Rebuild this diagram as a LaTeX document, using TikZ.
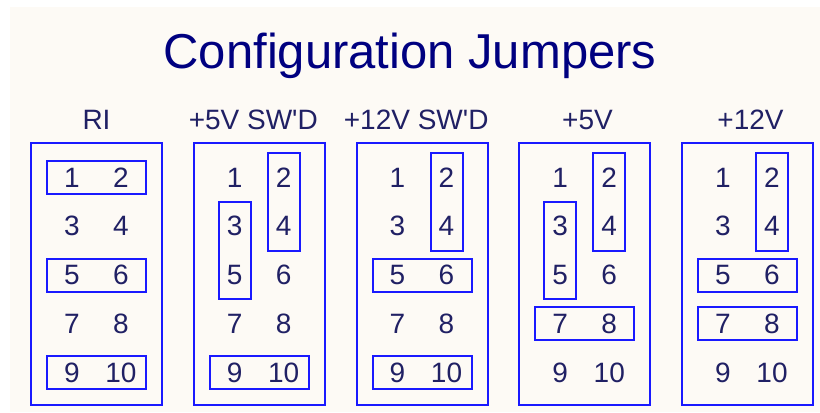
\documentclass[tikz,border=0pt]{standalone}
\usepackage{fontspec}
\setmainfont{Liberation Sans}
\usetikzlibrary{calc}
\definecolor{bgc}{RGB}{253,250,245}
\definecolor{ttl}{RGB}{0,0,128}
\definecolor{txt}{RGB}{32,32,100}
\definecolor{lnc}{RGB}{25,25,255}
\begin{document}
\begin{tikzpicture}[x=1bp,y=-1bp,
  panel/.style={draw=lnc,line width=2bp,minimum width=131bp,minimum height=262bp,inner sep=0pt},
  num/.style={text=txt,font=\fontsize{28bp}{30bp}\selectfont,inner sep=0pt},
  lbl/.style={text=txt,font=\fontsize{28bp}{30bp}\selectfont,inner sep=0pt,anchor=base},
  ttlstyle/.style={text=ttl,font=\fontsize{49bp}{52bp}\selectfont,inner sep=0pt,anchor=base},
  hj/.style={draw=lnc,line width=2bp,minimum width=99bp,minimum height=33bp,inner sep=0pt},
  vj/.style={draw=lnc,line width=2bp,minimum width=32bp,minimum height=97.5bp,inner sep=0pt}]
\useasboundingbox (0,0) rectangle (820,412);
\fill[white] (0,0) rectangle (820,412);
\fill[bgc] (10,7) rectangle (820,412);
\node[ttlstyle] (title) at (410,68) {Configuration Jumpers};
\foreach \p/\L/\lx/\t in {a/31/96.5/RI, b/193.75/253.3/{+5V SW\textquotesingle D}, c/356.5/416.2/{+12V SW\textquotesingle D}, d/519.25/587.5/+5V, e/682/750.5/+12V} {
  \node[panel] (\p box) at (\L+65.5,274) {};
  \node[lbl] (\p lbl) at (\lx,129.3) {\t};
  \foreach \k in {0,...,4} {
    \foreach \c in {0,1} {
      \pgfmathtruncatemacro\n{2*\k+1+\c}
      \node[num] (\p\n) at (\L+41+49*\c,177.5+48.75*\k) {\n};
    }
  }
}
% RI
\node[hj] (a12) at ($(a1)!0.5!(a2)$) {};
\node[hj] (a56) at ($(a5)!0.5!(a6)$) {};
\node[hj] (a910) at ($(a9)!0.5!(a10)$) {};
% +5V SW'D
\node[vj] (b24) at ($(b2)!0.5!(b4)$) {};
\node[vj] (b35) at ($(b3)!0.5!(b5)$) {};
\node[hj] (b910) at ($(b9)!0.5!(b10)$) {};
% +12V SW'D
\node[vj] (c24) at ($(c2)!0.5!(c4)$) {};
\node[hj] (c56) at ($(c5)!0.5!(c6)$) {};
\node[hj] (c910) at ($(c9)!0.5!(c10)$) {};
% +5V
\node[vj] (d24) at ($(d2)!0.5!(d4)$) {};
\node[vj] (d35) at ($(d3)!0.5!(d5)$) {};
\node[hj] (d78) at ($(d7)!0.5!(d8)$) {};
% +12V
\node[vj] (e24) at ($(e2)!0.5!(e4)$) {};
\node[hj] (e56) at ($(e5)!0.5!(e6)$) {};
\node[hj] (e78) at ($(e7)!0.5!(e8)$) {};
\end{tikzpicture}
\end{document}
